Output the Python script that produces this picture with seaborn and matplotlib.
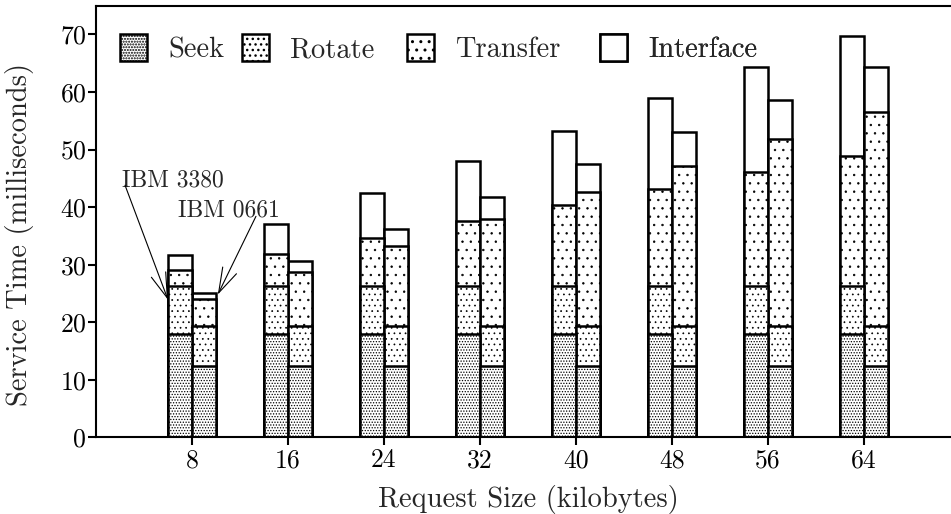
import matplotlib
matplotlib.use("Agg")
import matplotlib.pyplot as plt
from matplotlib.patches import Patch
import numpy as np
import pandas as pd
import seaborn as sns

# Request sizes (kilobytes) and the two disks compared
sizes = [8, 16, 24, 32, 40, 48, 56, 64]
disks = ["IBM 3380", "IBM 0661"]

# Service-time components (milliseconds), IBM 3380
seek_3380 = [18.0, 18.0, 18.0, 18.0, 18.0, 18.0, 18.0, 18.0]
rotate_3380 = [8.3, 8.3, 8.3, 8.3, 8.3, 8.3, 8.3, 8.3]
transfer_3380 = [2.8, 5.5, 8.3, 11.3, 14.0, 16.8, 19.8, 22.6]
interface_3380 = [2.5, 5.2, 7.8, 10.4, 13.0, 15.8, 18.2, 20.8]

# Service-time components (milliseconds), IBM 0661
seek_0661 = [12.4, 12.4, 12.4, 12.4, 12.4, 12.4, 12.4, 12.4]
rotate_0661 = [7.0, 7.0, 7.0, 7.0, 7.0, 7.0, 7.0, 7.0]
transfer_0661 = [4.6, 9.4, 13.9, 18.6, 23.2, 27.7, 32.5, 37.2]
interface_0661 = [1.0, 1.8, 2.9, 3.7, 4.9, 5.9, 6.7, 7.7]

components = ["Seek", "Rotate", "Transfer", "Interface"]
hatches = {"Seek": "......", "Rotate": "...", "Transfer": "..", "Interface": ""}
hatch_lw = {"Seek": 0.6, "Rotate": 0.5, "Transfer": 0.5, "Interface": 0.5}

sns.set_style("ticks")
plt.rcParams.update({
    "font.family": ["cmr10", "DejaVu Serif"],
    "mathtext.fontset": "cm",
    "axes.formatter.use_mathtext": True,
    "axes.unicode_minus": False,
    "hatch.color": "black",
    "axes.edgecolor": "black",
    "axes.linewidth": 1.5,
})

rows = []
for disk, parts in zip(disks, [
        (seek_3380, rotate_3380, transfer_3380, interface_3380),
        (seek_0661, rotate_0661, transfer_0661, interface_0661)]):
    for i, size in enumerate(sizes):
        rec = {"size": size, "disk": disk}
        total = 0.0
        for name, vals in zip(components, parts):
            total += vals[i]
            rec[name] = total  # cumulative top of this component
        rows.append(rec)
df = pd.DataFrame(rows)

fig = plt.figure(figsize=(9.51, 5.14), dpi=100)
ax = fig.add_axes([96 / 951, 76.7 / 514, 864 / 951, 431.6 / 514])

# Stack by overdrawing: tallest (cumulative) layer first, each opaque layer on top
for name in reversed(components):
    with plt.rc_context({"hatch.linewidth": hatch_lw[name]}):
        sns.barplot(data=df, x="size", y=name, hue="disk", hue_order=disks,
                    native_scale=True, width=0.5, palette=["white", "white"],
                    saturation=1, edgecolor="black", linewidth=1.8,
                    hatch=hatches[name], errorbar=None, legend=False, ax=ax)

ax.set_xlim(0, 72)
ax.set_ylim(0, 75)
ax.set_xticks(sizes)
ax.set_xticklabels([str(s) for s in sizes])
ax.set_yticks(np.arange(0, 71, 10))
ax.tick_params(axis="both", direction="out", length=6, width=1.5,
               labelsize=18.5, colors="black")
ax.tick_params(axis="y", pad=1)
ax.tick_params(axis="x", pad=2)

ax.set_xlabel("Request Size (kilobytes)", fontsize=20.5)
ax.set_ylabel("Service Time (milliseconds)", fontsize=20.5)
ax.xaxis.set_label_coords(0.5, -0.11)
ax.yaxis.set_label_coords(-0.0718, 0.469)

# One legend box per component, laid out along the top
legend_x = [0.0278, 0.169, 0.3599, 0.5833]
for name, lx in zip(components, legend_x):
    with plt.rc_context({"hatch.linewidth": hatch_lw[name]}):
        handle = Patch(facecolor="white", edgecolor="black", linewidth=1.8,
                       hatch=hatches[name])
    leg = ax.legend(handles=[handle], labels=[name], loc="center left",
                    bbox_to_anchor=(lx, 0.90), frameon=False, borderpad=0,
                    borderaxespad=0, handlelength=0.95, handleheight=1.05,
                    handletextpad=0.75, fontsize=20.5)
    ax.add_artist(leg)

# Disk labels with pointers to the first pair of bars
ax.text(2.2, 43.65, "IBM 3380", fontsize=17, ha="left", va="baseline")
ax.text(6.86, 38.3, "IBM 0661", fontsize=17, ha="left", va="baseline")
arrow = dict(arrowstyle="->,head_length=1.8,head_width=0.55", lw=0.8,
             color="black", shrinkA=0, shrinkB=0, mutation_scale=10)
ax.annotate("", xy=(6.0, 23.9), xytext=(2.42, 43.8), arrowprops=arrow)
ax.annotate("", xy=(10.15, 24.8), xytext=(13.33, 38.4), arrowprops=arrow)

fig.savefig("out.png", dpi=100)
